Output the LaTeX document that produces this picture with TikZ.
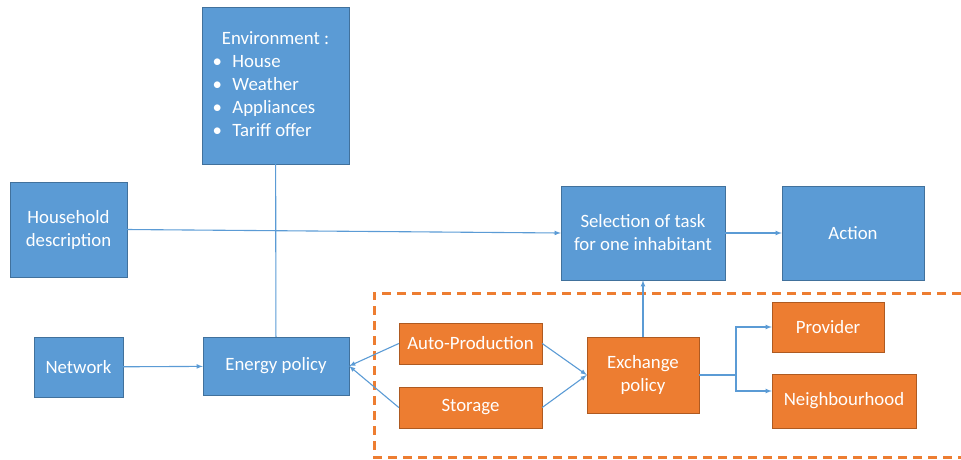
\documentclass[tikz,border=0pt]{standalone}
\usepackage{fontspec}
\setmainfont{Carlito}
\usepackage{tikz}
\usepackage{color}
\definecolor{boxblue}{HTML}{5B9BD5}
\definecolor{edgeblue}{HTML}{41719C}
\definecolor{boxorange}{HTML}{ED7D31}
\definecolor{edgeorange}{HTML}{AE5A21}

\begin{document}
\begin{tikzpicture}[x=1pt, y=-1pt, >=latex,
    blue box/.style={draw=edgeblue, fill=boxblue, text=white, align=center, inner sep=2pt, font=\fontsize{18.8}{23}\selectfont},
    orange box/.style={draw=edgeorange, fill=boxorange, text=white, align=center, inner sep=2pt, font=\fontsize{18.8}{23}\selectfont},
    link/.style={color=boxblue, line width=1.1pt, ->}]
    \useasboundingbox (0,0) rectangle (961,459);

    % zone of the household energy
    \draw[boxorange, line width=3pt, dash pattern=on 9pt off 6pt] (961,293) -- (374,293) -- (374,457) -- (961,457);

    \node[blue box, minimum width=147pt, minimum height=157pt] (env) at (275.5,85.5) {%
      \begin{tabular}{@{}p{20pt}@{}p{106pt}@{}}
        \multicolumn{2}{@{}c@{}}{Environment :}\\
        \textbullet & House\\
        \textbullet & Weather\\
        \textbullet & Appliances\\
        \textbullet & Tariff offer
      \end{tabular}};
    \node[blue box, minimum width=117pt, minimum height=95pt] (house) at (68.5,229.5) {Household\\description};
    \node[blue box, minimum width=89pt, minimum height=60pt] (net) at (78.5,367) {Network};
    \node[blue box, minimum width=146pt, minimum height=58pt] (energy) at (276,366) {Energy policy};
    \node[blue box, minimum width=164pt, minimum height=94pt] (select) at (643,233) {Selection of task\\for one inhabitant};
    \node[blue box, minimum width=142pt, minimum height=94pt] (action) at (853,233) {Action};

    \node[orange box, minimum width=143pt, minimum height=41pt] (auto) at (470.5,343.5) {Auto-Production};
    \node[orange box, minimum width=143pt, minimum height=41pt] (store) at (470.5,407.5) {Storage};
    \node[orange box, minimum width=112pt, minimum height=76pt] (exch) at (643,375) {Exchange\\policy};
    \node[orange box, minimum width=112pt, minimum height=50pt] (prov) at (828,327) {Provider};
    \node[orange box, minimum width=144pt, minimum height=54pt] (neigh) at (844,401) {Neighbourhood};

    \path[link, -]  (env) edge (energy);
    \path[link]  (house.east) edge (select.west);
    \path[link]  (net) edge (energy);
    \path[link]  (auto.west) edge (energy.east);
    \path[link]  (store.west) edge (energy.east);
    \path[link]  (auto.east) edge (exch.west);
    \path[link]  (store.east) edge (exch.west);
    \path[link]  (exch) edge (select);
    \path[link]  (select) edge (action);
    \draw[link]  (exch.east) -- (736,375) |- (prov.west);
    \draw[link]  (exch.east) -- (736,375) |- ([yshift=10pt]neigh.west);

\end{tikzpicture}
\end{document}
